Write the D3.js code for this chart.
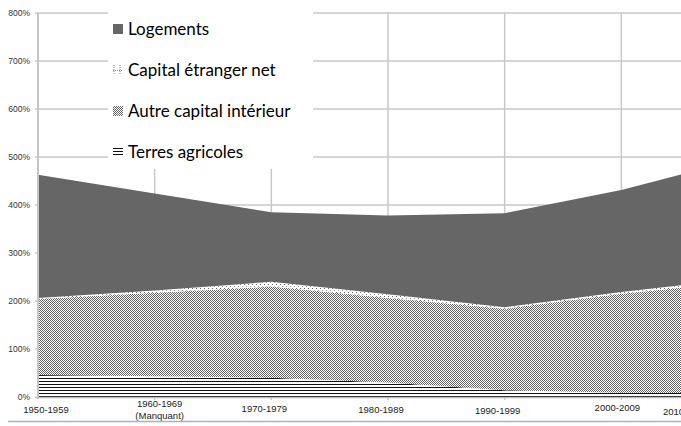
<!DOCTYPE html>
<html>
<head>
<meta charset="utf-8">
<script src="https://d3js.org/d3.v7.min.js"></script>
<style>
  body { margin: 0; background: #fff; overflow: hidden; }
  svg { display: block; }
  .ytick { font-family: "Liberation Sans", Arial, sans-serif; font-size: 8.5px; fill: #333; }
  .xtick { font-family: "Liberation Sans", Arial, sans-serif; font-size: 9.5px; fill: #222; }
  .leg { font-family: Lato, "Open Sans", sans-serif; font-size: 17px; fill: #000; }
</style>
</head>
<body>
<div id="chart"></div>
<script>
var svgWidth = 681;
var svgHeight = 426;

// decades (1960s data missing -> linear between neighbours)
var periods = ["1950-1959", "1960-1969", "1970-1979", "1980-1989", "1990-1999", "2000-2009", "2010"];
var periodNotes = ["", "(Manquant)", "", "", "", "", ""];

// capital / national income, in %
var terres = [46, 43, 40, 30, 14, 9, 8];
var autreCapital = [158, 174, 190, 176, 170, 206, 232];
var etranger = [2, 5, 10, 8, 3, 4, 6];
var logements = [257, 202, 145, 164, 196, 212, 249];

var yTicks = [0, 100, 200, 300, 400, 500, 600, 700, 800];
var legendLabels = ["Logements", "Capital étranger net", "Autre capital intérieur", "Terres agricoles"];
// small nudges of the x labels, as in the original
var labelShift = [8, 5, -7, -7, -7, -4, -75];
var labelLift = [0, -6, -1, 0, 1, -2, 2];

var margin = { top: 13, left: 38, bottom: 29 };
var y0 = svgHeight - margin.bottom;

var rows = periods.map(function(p, i) {
  return { period: p, terres: terres[i], autre: autreCapital[i], etranger: etranger[i], logements: logements[i] };
});

var x = d3.scalePoint()
  .domain(periods)
  .range([margin.left, margin.left + 700]);

var y = d3.scaleLinear()
  .domain([0, 800])
  .range([y0, margin.top]);

var svg = d3.select("#chart")
  .append("svg")
  .attr("width", svgWidth)
  .attr("height", svgHeight);

// fill patterns
var defs = svg.append("defs");

var pLines = defs.append("pattern")
  .attr("id", "p-terres").attr("patternUnits", "userSpaceOnUse")
  .attr("width", 4).attr("height", 3);
pLines.append("rect").attr("width", 4).attr("height", 3).attr("fill", "#fff");
pLines.append("rect").attr("y", 0).attr("width", 4).attr("height", 1).attr("fill", "#111");

var pCheck = defs.append("pattern")
  .attr("id", "p-autre").attr("patternUnits", "userSpaceOnUse")
  .attr("width", 2).attr("height", 2);
pCheck.append("rect").attr("width", 2).attr("height", 2).attr("fill", "#fff");
pCheck.append("rect").attr("x", 0).attr("y", 0).attr("width", 1).attr("height", 1).attr("fill", "#666");
pCheck.append("rect").attr("x", 1).attr("y", 1).attr("width", 1).attr("height", 1).attr("fill", "#666");

var pDots = defs.append("pattern")
  .attr("id", "p-etranger").attr("patternUnits", "userSpaceOnUse")
  .attr("width", 4).attr("height", 4);
pDots.append("rect").attr("width", 4).attr("height", 4).attr("fill", "#fff");
pDots.append("rect").attr("x", 0).attr("y", 0).attr("width", 1).attr("height", 1).attr("fill", "#666");
pDots.append("rect").attr("x", 2).attr("y", 2).attr("width", 1).attr("height", 1).attr("fill", "#999");

var fills = {
  terres: "url(#p-terres)",
  autre: "url(#p-autre)",
  etranger: "url(#p-etranger)",
  logements: "#666666"
};

// gridlines
svg.append("g")
  .selectAll("line")
  .data(yTicks.slice(1))
  .enter()
  .append("line")
  .attr("x1", margin.left - 3)
  .attr("x2", svgWidth)
  .attr("y1", d => y(d))
  .attr("y2", d => y(d))
  .attr("stroke", "#c9c9c9")
  .attr("stroke-width", 1.5);

svg.append("g")
  .selectAll("line")
  .data(periods.slice(1))
  .enter()
  .append("line")
  .attr("x1", d => x(d))
  .attr("x2", d => x(d))
  .attr("y1", margin.top)
  .attr("y2", y0 + 3)
  .attr("stroke", "#c9c9c9")
  .attr("stroke-width", 1.5);

// legend background hides the grid behind it
svg.append("rect")
  .attr("x", 108).attr("y", 0)
  .attr("width", 205).attr("height", 169)
  .attr("fill", "#fff");

// stacked areas
var keys = ["terres", "autre", "etranger", "logements"];
var series = d3.stack().keys(keys)(rows);

var area = d3.area()
  .x(d => x(d.data.period))
  .y0(d => y(d[0]))
  .y1(d => y(d[1]));

svg.append("g")
  .selectAll("path")
  .data(series)
  .enter()
  .append("path")
  .attr("d", area)
  .attr("fill", d => fills[d.key]);

// y axis
svg.append("line")
  .attr("x1", margin.left).attr("x2", margin.left)
  .attr("y1", margin.top).attr("y2", y0 + 2)
  .attr("stroke", "#c4c4c4").attr("stroke-width", 2);

svg.append("line")
  .attr("x1", margin.left - 3).attr("x2", svgWidth)
  .attr("y1", y0 + 0.5).attr("y2", y0 + 0.5)
  .attr("stroke", "#bdbdbd").attr("stroke-width", 1.5);

svg.append("g")
  .selectAll("text")
  .data(yTicks)
  .enter()
  .append("text")
  .attr("class", "ytick")
  .attr("x", margin.left - 8)
  .attr("y", d => y(d) + 3)
  .attr("text-anchor", "end")
  .text(d => d + "%");

// x labels
var xl = svg.append("g");
xl.selectAll("text.xtick")
  .data(periods)
  .enter()
  .append("text")
  .attr("class", "xtick")
  .attr("x", (d, i) => x(d) + labelShift[i])
  .attr("y", (d, i) => y0 + 16 + labelLift[i])
  .attr("text-anchor", (d, i) => i === periods.length - 1 ? "start" : "middle")
  .text(d => d);
xl.selectAll("text.note")
  .data(periodNotes)
  .enter()
  .append("text")
  .attr("class", "xtick note")
  .attr("x", (d, i) => x(periods[i]) + labelShift[i])
  .attr("y", y0 + 22)
  .attr("text-anchor", "middle")
  .text(d => d);

// thin blue frame at the bottom
svg.append("line")
  .attr("x1", 8).attr("x2", svgWidth)
  .attr("y1", svgHeight - 4.5).attr("y2", svgHeight - 4.5)
  .attr("stroke", "#9fb2d4").attr("stroke-width", 1.5);

// legend
var legend = svg.append("g");
var legKeys = ["logements", "etranger", "autre", "terres"];
legendLabels.forEach(function(label, i) {
  var ly = 29 + i * 41;
  var g = legend.append("g").attr("transform", `translate(113, ${ly})`);
  if (legKeys[i] === "terres") {
    [-4, -1, 2].forEach(function(dy) {
      g.append("rect").attr("x", 0).attr("y", dy).attr("width", 10).attr("height", 1).attr("fill", "#111");
    });
  } else if (legKeys[i] === "etranger") {
    g.append("line").attr("x1", 1).attr("x2", 1).attr("y1", -5).attr("y2", 5)
      .attr("stroke", "#888").attr("stroke-dasharray", "1,1");
    g.append("line").attr("x1", 7).attr("x2", 7).attr("y1", -5).attr("y2", 5)
      .attr("stroke", "#888").attr("stroke-dasharray", "1,1");
    g.append("line").attr("x1", 0).attr("x2", 9).attr("y1", 0.5).attr("y2", 0.5)
      .attr("stroke", "#888").attr("stroke-dasharray", "1,1");
  } else {
    g.append("rect").attr("x", 0).attr("y", -5).attr("width", 10).attr("height", 10)
      .attr("fill", fills[legKeys[i]]);
  }
  g.append("text")
    .attr("class", "leg")
    .attr("x", 15)
    .attr("y", 6)
    .text(label);
});
</script>
</body>
</html>
